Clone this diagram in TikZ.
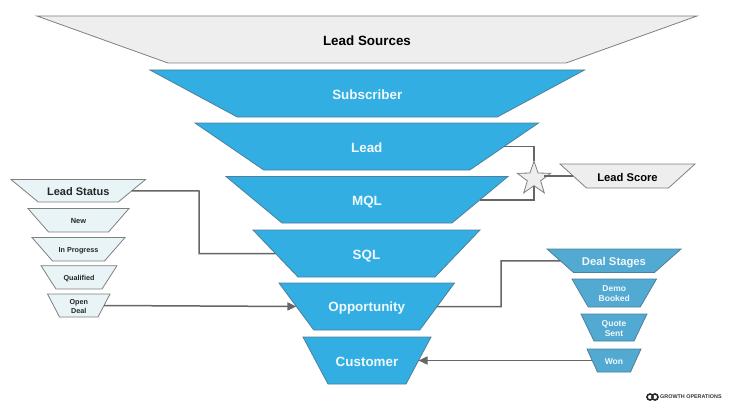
\documentclass[tikz,border=0pt]{standalone}
\usepackage{fontspec}
\setmainfont{Liberation Sans}
\usetikzlibrary{shapes.geometric,arrows.meta}
\definecolor{skyb}{HTML}{33AEE3}
\definecolor{dealb}{HTML}{52A9D2}
\definecolor{pale}{HTML}{E8F4F6}
\definecolor{greyf}{HTML}{EEEEEE}
\definecolor{edgeg}{HTML}{7F7F7F}
\definecolor{edgeb}{HTML}{4F7F98}
\definecolor{linkc}{HTML}{666666}
\tikzset{
  funnel/.style={trapezium,shape border rotate=180,inner sep=0pt,outer sep=0pt},
  bigblue/.style={funnel,fill=skyb,draw=edgeb,line width=.8pt,text=white!92!skyb},
  biggrey/.style={funnel,fill=greyf,draw=edgeg,line width=.8pt,text=black},
  palebox/.style={funnel,fill=pale,draw=edgeg,line width=.8pt,text=black!85},
  greybox/.style={funnel,fill=greyf,draw=edgeg,line width=.8pt,text=black},
  dealbox/.style={funnel,fill=dealb,draw=edgeb,line width=.8pt,text=white!92!dealb},
  link/.style={draw=linkc,line width=1.5pt,rounded corners=0pt},
  arrowlink/.style={link,-{Triangle[length=9pt,width=8pt,fill=linkc]}},
  ratingstar/.style={star,star points=5,star point ratio=2.5,minimum size=35pt,inner sep=0pt,outer sep=0pt,fill=greyf,draw=edgeg,line width=.8pt},
}
\newcommand{\capstrut}{\rule[-.1em]{0pt}{1.12em}}
\newcommand{\capstrutlow}{\rule[-.1em]{0pt}{.82em}}
% name, style, font size, xl, xr, yt, xbl, xbr, yb -- then the text
\newcommand{\fun}[9]{%
  \pgfmathsetmacro{\fW}{#8-#7}%
  \pgfmathsetmacro{\fH}{#9-#6}%
  \pgfmathsetmacro{\fD}{((#5-#4)-(#8-#7))/2}%
  \pgfmathsetmacro{\fA}{atan(\fH/\fD)}%
  \pgfmathsetmacro{\fX}{(#4+#5)/2}%
  \pgfmathsetmacro{\fY}{(#6+#9)/2}%
  \funrest{#1}{#2}{#3}%
}
\newcommand{\funrest}[4]{%
  \pgfmathsetmacro{\fS}{#3*1.18}%
  \node[#2,trapezium left angle=\fA,trapezium right angle=\fA] (#1) at (\fX,\fY)
    {\parbox[c][\fH pt][c]{\fW pt}{\centering\bfseries\fontsize{#3}{\fS}\selectfont \capstrut #4\capstrutlow}};%
}
\begin{document}
\begin{tikzpicture}[x=1pt,y=-1pt]
\useasboundingbox (0,0) rectangle (734,412);
\fun{sources}{biggrey}{13.4}{37}{697}{16}{168}{566}{63}{Lead Sources}
\fun{subscriber}{bigblue}{13.4}{150}{584.5}{70}{237}{497}{117}{Subscriber}
\fun{lead}{bigblue}{13.4}{195}{538.5}{123}{264}{470}{170}{Lead}
\fun{mql}{bigblue}{13.4}{226}{508}{176.5}{282}{452}{223}{MQL}
\fun{sql}{bigblue}{13.4}{253}{480}{230}{298}{435}{277}{SQL}
\fun{opp}{bigblue}{13.4}{279}{454.5}{283}{314}{420}{330}{Opportunity}
\fun{cust}{bigblue}{13.4}{303}{431}{337}{328}{406}{384}{Customer}
\fun{status}{palebox}{11}{11}{145.5}{179.5}{39}{119}{202}{Lead Status}
\fun{new}{palebox}{7.4}{28}{129}{208.5}{49}{109}{232}{New}
\fun{prog}{palebox}{7.2}{32}{125}{237.5}{55}{107}{261}{In Progress}
\fun{qual}{palebox}{7.2}{41}{117}{265.7}{56}{102}{289}{Qualified}
\fun{open}{palebox}{7.2}{47.5}{110}{294}{60}{98.5}{317}{Open\\Deal}
\fun{score}{greybox}{11.2}{560}{695}{164}{587}{669}{188}{Lead Score}
\fun{stages}{dealbox}{11.3}{547}{681}{249}{574}{655}{272.5}{Deal Stages}
\fun{demo}{dealbox}{8.5}{572}{656.5}{279}{589}{641}{307}{Demo\\Booked}
\fun{quote}{dealbox}{8.5}{581}{647}{314}{594}{634}{341}{Quote\\Sent}
\fun{won}{dealbox}{8.5}{587}{641}{349}{598}{631}{372}{Won}
\node[ratingstar] (rating) at (534,178.7) {};
\draw[link] (lead.east) -| (rating.north);
\draw[link] (mql.east) -| (rating.south);
\draw[link] (score.west) -- (rating.east |- score.west);
\draw[link] (status.east) -- (199,191) |- (sql.west);
\draw[arrowlink] (open.east) -- (opp.west);
\draw[link] (opp.east) -- (501,306.5) |- (stages.west);
\draw[arrowlink] (won.west) -- (cust.east);
% logo
\draw[black!85,line width=1.6pt] (650,397) circle (3);
\draw[black!85,line width=1.6pt] (655,397) circle (3);
\node[anchor=west,inner sep=0pt,text=black!80,font=\bfseries\fontsize{5.4}{6}\selectfont] (logo) at (660,397) {GROWTH OPERATIONS};
\end{tikzpicture}
\end{document}
